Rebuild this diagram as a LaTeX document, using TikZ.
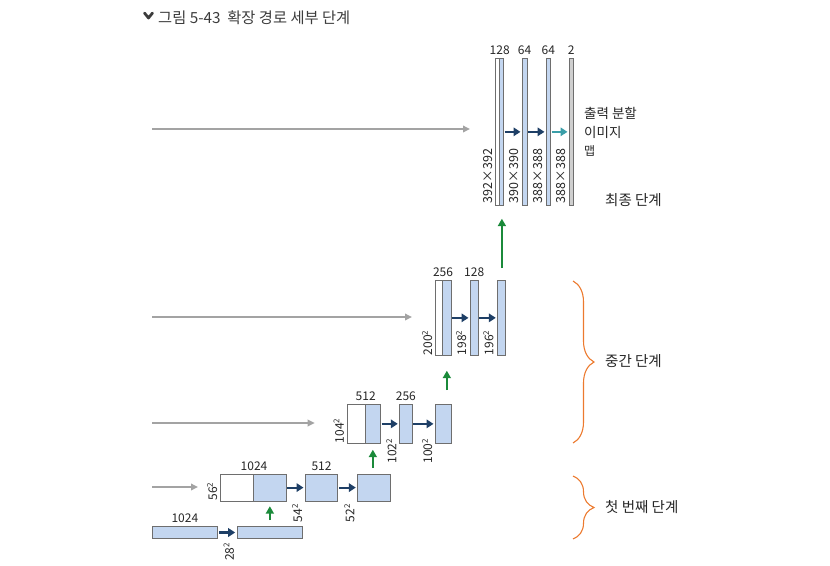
\documentclass[tikz,border=0pt]{standalone}
\usepackage{fontspec}
\setmainfont{Noto Sans CJK KR}
\usetikzlibrary{arrows.meta,positioning,decorations.pathreplacing}

\definecolor{mapblue}{HTML}{C3D6F0}
\definecolor{boxline}{HTML}{6E6E6E}
\definecolor{outgray}{HTML}{CFCFCF}
\definecolor{convnavy}{HTML}{1E3F66}
\definecolor{outteal}{HTML}{3A9EA8}
\definecolor{upgreen}{HTML}{1B8A3A}
\definecolor{skipgray}{HTML}{A3A3A3}
\definecolor{braceorange}{HTML}{EC7A2E}
\definecolor{titlegray}{HTML}{3C3C3C}

\tikzset{
  fmap/.style={draw=boxline, fill=mapblue, line width=0.7pt, inner sep=0pt, anchor=north west},
  cpbox/.style={fmap, fill=white},
  chlbl/.style={font=\fontsize{12}{13}\selectfont, inner sep=1pt, text=black!85},
  dimlbl/.style={font=\fontsize{12}{13}\selectfont, inner sep=0.5pt, rotate=90, text=black!85},
  stagelbl/.style={font=\fontsize{14.5}{16}\selectfont, anchor=west, inner sep=0pt, text=black!85},
  conv/.style={draw=convnavy, line width=2.2pt, -{Triangle[length=7pt,width=8.5pt]}},
  outconv/.style={conv, draw=outteal},
  upconv/.style={draw=upgreen, line width=1.8pt, -{Triangle[length=7.5pt,width=8pt]}},
  skip/.style={draw=skipgray, line width=1.8pt, -{Triangle[length=7pt,width=6.5pt]}},
  stagebrace/.style={draw=braceorange, line width=1.1pt,
    decorate, decoration={brace, amplitude=21pt}}
}

\begin{document}
\begin{tikzpicture}[x=1pt, y=-1pt]
  \useasboundingbox (0,0) rectangle (830,565);

  % 제목
  \draw[titlegray, line width=2.8pt, line cap=round, line join=round] (144.5,13) -- (148.5,18) -- (152.5,13);
  \node[anchor=west, inner sep=0pt, font=\fontsize{15.3}{16}\selectfont, text=titlegray] (title) at (158,17.5)
    {그림 5-43\ \ 확장 경로 세부 단계};

  % 최종 단계
  \node[cpbox, minimum width=4pt, minimum height=147pt] (f1w) at (495,58) {};
  \node[fmap, minimum width=4pt, minimum height=147pt] (f1b) at (499,58) {};
  \node[fmap, minimum width=4.5pt, minimum height=147pt] (f2) at (522,58) {};
  \node[fmap, minimum width=4pt, minimum height=147pt] (f3) at (546,58) {};
  \node[fmap, fill=outgray, minimum width=3.5pt, minimum height=147pt] (f4) at (569,58) {};
  \node[chlbl, above=2pt of f1w.north east] {128};
  \node[chlbl, above=2pt of f2] {64};
  \node[chlbl, above=2pt of f3] {64};
  \node[chlbl, above=2pt of f4] {2};
  \node[dimlbl, font=\fontsize{12.5}{13}\selectfont, anchor=south west] at ([xshift=-2pt, yshift=2pt]f1w.south west) {392×392};
  \node[dimlbl, font=\fontsize{12.5}{13}\selectfont, anchor=south west] at ([xshift=-3pt, yshift=2pt]f2.south west) {390×390};
  \node[dimlbl, font=\fontsize{12.5}{13}\selectfont, anchor=south west] at ([xshift=-3pt, yshift=2pt]f3.south west) {388×388};
  \node[dimlbl, font=\fontsize{12.5}{13}\selectfont, anchor=south west] at ([xshift=-3pt, yshift=2pt]f4.south west) {388×388};
  \draw[conv] ([xshift=1pt]f1b.east) -- ([xshift=-1.5pt]f2.west);
  \draw[conv] ([xshift=1pt]f2.east) -- ([xshift=-1.5pt]f3.west);
  \draw[outconv] ([xshift=1pt]f3.east) -- ([xshift=-1.5pt]f4.west);
  \node[stagelbl, font=\fontsize{13.5}{15}\selectfont] (segout) at (584,113) {출력 분할};
  \node[stagelbl, font=\fontsize{13.5}{15}\selectfont] (segimg) at (584,132) {이미지};
  \node[stagelbl, font=\fontsize{12}{13}\selectfont] (segmap) at (584,151) {맵};
  \node[stagelbl] (laststage) at (605,200) {최종 단계};

  % 중간 단계
  \node[cpbox, minimum width=7.3pt, minimum height=75pt] (m1w) at (435,280) {};
  \node[fmap, minimum width=8.4pt, minimum height=75pt] (m1b) at (442.3,280) {};
  \node[fmap, minimum width=7.7pt, minimum height=75pt] (m2) at (470,280) {};
  \node[fmap, minimum width=7.7pt, minimum height=75pt] (m3) at (497.3,280) {};
  \node[chlbl, above=2pt of m1w.north east] {256};
  \node[chlbl, above=2pt of m2] {128};
  \node[dimlbl, anchor=south west] at ([xshift=-2pt]m1w.south west) {200\textsuperscript{2}};
  \node[dimlbl, anchor=south west] at ([xshift=-3pt]m2.south west) {198\textsuperscript{2}};
  \node[dimlbl, anchor=south west] at ([xshift=-3pt]m3.south west) {196\textsuperscript{2}};
  \draw[conv] ([xshift=1pt]m1b.east) -- ([xshift=-1.5pt]m2.west);
  \draw[conv] ([xshift=1pt]m2.east) -- ([xshift=-1.5pt]m3.west);

  \node[cpbox, minimum width=18.3pt, minimum height=39pt] (l1w) at (346.7,404) {};
  \node[fmap, minimum width=15pt, minimum height=39pt] (l1b) at (365,404) {};
  \node[fmap, minimum width=12.4pt, minimum height=39pt] (l2) at (399.3,404) {};
  \node[fmap, minimum width=15.7pt, minimum height=39pt] (l3) at (435,404) {};
  \node[chlbl, above=2pt of l1w.north east] {512};
  \node[chlbl, above=2pt of l2] {256};
  \node[dimlbl, anchor=south west] at ([xshift=-2pt]l1w.south west) {104\textsuperscript{2}};
  \node[dimlbl, anchor=south east] at ([xshift=-2pt, yshift=6pt]l2.south west) {102\textsuperscript{2}};
  \node[dimlbl, anchor=south east] at ([xshift=-2pt, yshift=6pt]l3.south west) {100\textsuperscript{2}};
  \draw[conv] ([xshift=1pt]l1b.east) -- ([xshift=-1.5pt]l2.west);
  \draw[conv] ([xshift=1pt]l2.east) -- ([xshift=-1.5pt]l3.west);

  % 첫 번째 단계
  \node[cpbox, minimum width=33.3pt, minimum height=26.5pt] (b1w) at (220,474) {};
  \node[fmap, minimum width=32.4pt, minimum height=26.5pt] (b1b) at (253.3,474) {};
  \node[fmap, minimum width=32.3pt, minimum height=26.5pt] (b2) at (305,474) {};
  \node[fmap, minimum width=32.7pt, minimum height=26.5pt] (b3) at (357.3,474) {};
  \node[chlbl, above=2pt of b1w.north east] {1024};
  \node[chlbl, above=2pt of b2] {512};
  \node[dimlbl, anchor=south west] at ([xshift=-2pt]b1w.south west) {56\textsuperscript{2}};
  \node[dimlbl, anchor=south east] at ([xshift=-2pt, yshift=-2pt]b2.south west) {54\textsuperscript{2}};
  \node[dimlbl, anchor=south east] at ([xshift=-2pt, yshift=-2pt]b3.south west) {52\textsuperscript{2}};
  \draw[conv] ([xshift=1pt]b1b.east) -- ([xshift=-1.5pt]b2.west);
  \draw[conv] ([xshift=1pt]b2.east) -- ([xshift=-1.5pt]b3.west);

  \node[fmap, minimum width=65.6pt, minimum height=12.3pt] (z1) at (151.7,526) {};
  \node[fmap, minimum width=65.6pt, minimum height=12.3pt] (z2) at (236.7,526) {};
  \node[chlbl, above=2pt of z1] {1024};
  \node[dimlbl, anchor=south east] at ([xshift=-2pt, yshift=-3pt]z2.south west) {28\textsuperscript{2}};
  \draw[conv] ([xshift=1pt]z1.east) -- ([xshift=-1.5pt]z2.west);

  % 업 컨볼루션
  \draw[upconv] ([yshift=6pt]z2.north -| b1b.south) -- ([yshift=-5pt]b1b.south);
  \draw[upconv] ([yshift=6pt]b3.north -| l1b.south) -- ([yshift=-6pt]l1b.south);
  \draw[upconv] ([yshift=14pt]l3.north -| m1b.south) -- ([yshift=-15pt]m1b.south);
  \coordinate (upfrom) at ([xshift=0.4pt, yshift=12pt]m3.north);
  \coordinate (upto) at ([yshift=-13pt]upfrom |- f1b.south);
  \draw[upconv, line width=2pt] (upfrom) -- (upto);

  % 복사 연결
  \coordinate (s1) at (152,129);
  \coordinate (s2) at (152,317);
  \coordinate (s3) at (152,423);
  \coordinate (s4) at (152,487);
  \draw[skip] (s1) -- ([xshift=-25pt]s1 -| f1w.west);
  \draw[skip] (s2) -- ([xshift=-23pt]s2 -| m1w.west);
  \draw[skip] (s3) -- ([xshift=-32pt]s3 -| l1w.west);
  \draw[skip] (s4) -- ([xshift=-22pt]s4 -| b1w.west);

  % 단계 괄호
  \coordinate (mtop) at (573,281);
  \coordinate (mbot) at (573,443);
  \coordinate (btop) at (573,476);
  \coordinate (bbot) at (573,539);
  \draw[stagebrace] (mtop) -- (mbot);
  \draw[stagebrace] (btop) -- (bbot);
  \node[stagelbl] (midstage) at (605,361) {중간 단계};
  \node[stagelbl] (firststage) at (605,507) {첫 번째 단계};
\end{tikzpicture}
\end{document}
